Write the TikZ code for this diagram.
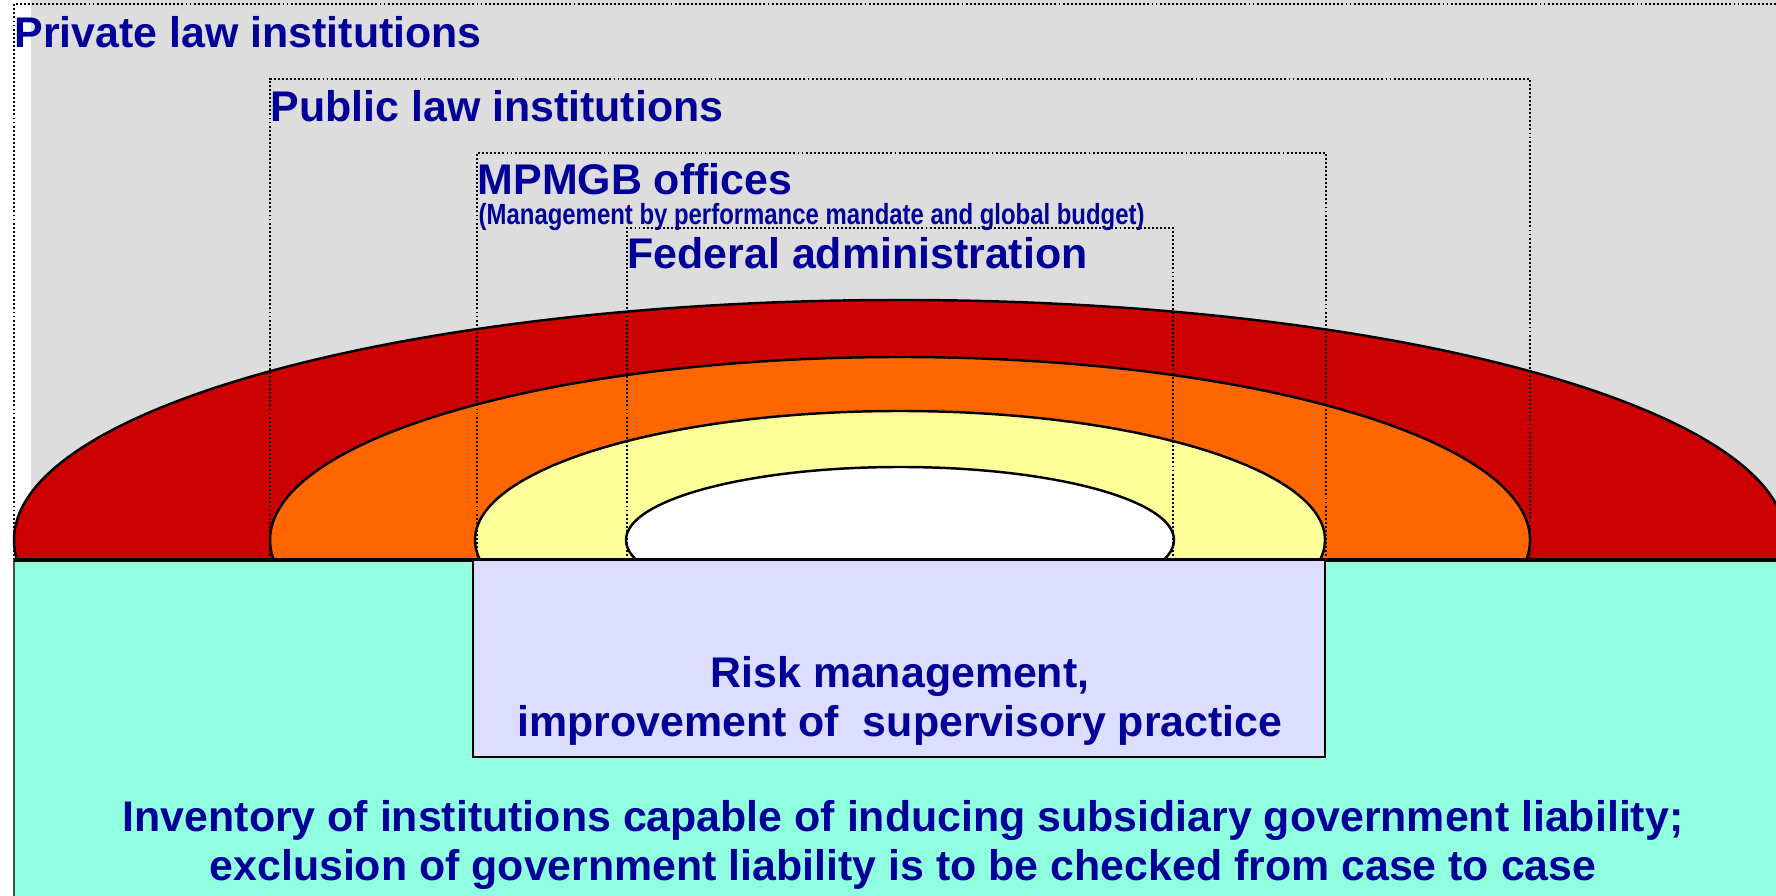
\documentclass[tikz,border=0pt]{standalone}
\usepackage{fontspec}
\setmainfont{Liberation Sans}
\newfontfamily\narrowfont[FakeStretch=0.82]{Liberation Sans}

\definecolor{schriftblau}{HTML}{000099}
\definecolor{hintergrund}{HTML}{DDDDDD}
\definecolor{rot}{HTML}{CC0000}
\definecolor{orange}{HTML}{FF6600}
\definecolor{gelb}{HTML}{FFFF99}
\definecolor{lavendel}{HTML}{DDDDFF}
\definecolor{tuerkis}{RGB}{143,255,224}

\tikzset{
  rahmen/.style={draw=black, line width=0.55pt, dash pattern=on 0.55pt off 0.6pt},
  kreis/.style={draw=black, line width=0.7pt},
  titel/.style={anchor=base west, inner sep=0pt, text=schriftblau,
    font=\fontsize{12.2}{14.2}\selectfont\bfseries},
  kasten/.style={anchor=base, inner sep=0pt, align=center, text=schriftblau,
    font=\fontsize{12.2}{14.2}\selectfont\bfseries}
}

\begin{document}
\begin{tikzpicture}
            \useasboundingbox (0,0) rectangle (17.76,-8.96);
            \clip (0,0) rectangle (17.76,-8.96);

            % Hintergrund
            \fill[hintergrund] (0.31,0) rectangle (17.76,-5.60);

            % Halbellipsen
            \begin{scope}
                \clip (0,0) rectangle (17.76,-5.60);
                \filldraw[kreis, fill=rot] (9.00,-5.40) ellipse (8.86 and 2.40);
                \filldraw[kreis, fill=orange] (9.00,-5.40) ellipse (6.30 and 1.83);
                \filldraw[kreis, fill=gelb] (9.00,-5.40) ellipse (4.25 and 1.29);
                \filldraw[kreis, fill=white] (9.00,-5.40) ellipse (2.74 and 0.73);
            \end{scope}

            % Rahmen der Ebenen
            \draw[rahmen] (0.14,-5.60) -- (0.14,-0.04) -- (17.86,-0.04);
            \draw[rahmen] (2.70,-5.60) rectangle (15.30,-0.79);
            \draw[rahmen] (4.77,-5.60) rectangle (13.26,-1.53);
            \draw[rahmen] (6.27,-5.60) rectangle (11.73,-2.28);

            % Unterer Bereich
            \filldraw[fill=tuerkis, draw=black!70, line width=0.8pt] (0.14,-5.60) rectangle (17.86,-9.20);
            \draw[black, line width=0.9pt] (0.14,-5.60) -- (17.76,-5.60);
            \filldraw[fill=lavendel, draw=black, line width=0.6pt] (4.73,-5.60) rectangle (13.25,-7.57);

            % Beschriftung der Ebenen
            \node[titel] (privat) at (0.14,-0.48) {Private law institutions};
            \node[titel] (oeffentlich) at (2.70,-1.22) {Public law institutions};
            \node[titel] (flag) at (4.77,-1.95) {MPMGB offices};
            \node[titel, font=\narrowfont\fontsize{8.3}{10}\selectfont\bfseries] (flagtext) at (4.78,-2.25)
                {(Management by performance mandate and global budget)};
            \node[titel] (bund) at (6.27,-2.69) {Federal administration};

            % Beschriftung unten (Anker auf der letzten Zeile)
            \node[kasten] (risiko) at (9.00,-7.37) {Risk management,\\improvement of \ supervisory practice};
            \node[kasten, font=\fontsize{12.2}{13.7}\selectfont\bfseries] (inventar) at (9.03,-8.80)
                {Inventory of institutions capable of inducing subsidiary government liability;\\
                 exclusion of government liability is to be checked from case to case};
\end{tikzpicture}
\end{document}
